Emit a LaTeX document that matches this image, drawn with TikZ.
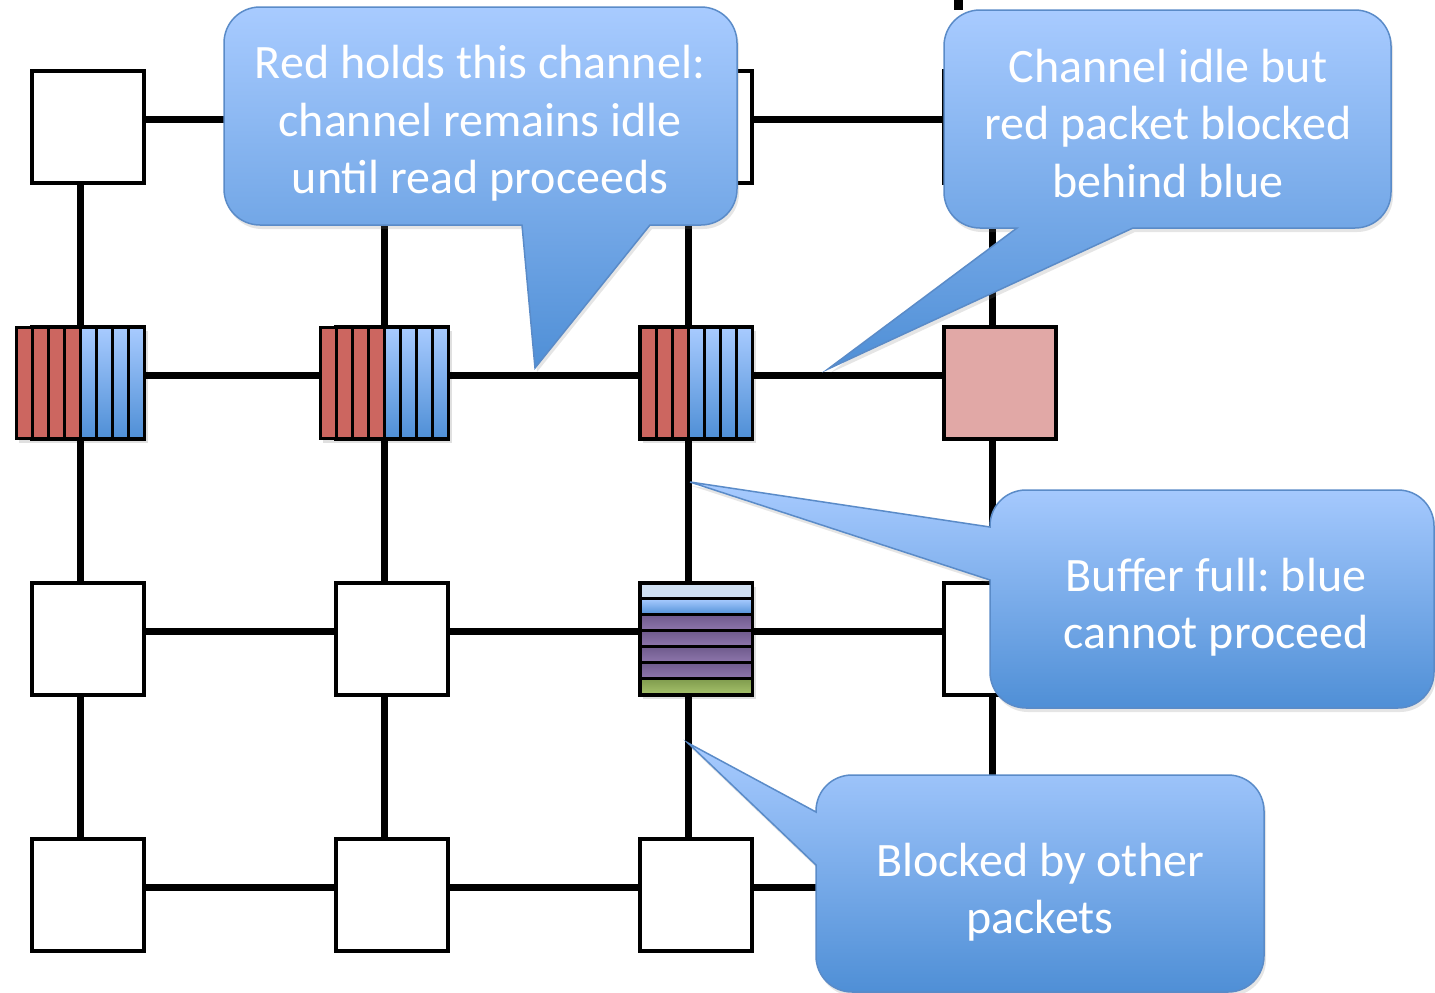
\documentclass[tikz,border=0pt]{standalone}
\usepackage{fontspec}
\setmainfont{Carlito}
\usetikzlibrary{shadows}
\frenchspacing
\definecolor{cTop}{HTML}{A8CBFF}
\definecolor{cBot}{HTML}{4F8FD6}
\definecolor{cEdge}{HTML}{5A8BC8}
\definecolor{pkRed}{HTML}{CC6660}
\definecolor{pkPink}{HTML}{E1A8A6}
\definecolor{pkLight}{HTML}{CFDFF2}
\definecolor{pkPurp}{HTML}{8E76AC}
\definecolor{pkPurpD}{HTML}{6E5A8C}
\definecolor{pkGreen}{HTML}{A5C16B}
\definecolor{pkGreenD}{HTML}{7E9A4C}
\begin{document}
\begin{tikzpicture}[x=1pt,y=-1pt,
  router/.style={draw=black, line width=4pt, fill=white, minimum size=112pt, inner sep=0pt, outer sep=0pt},
  link/.style={line width=7pt, black},
  callout/.style={top color=cTop, bottom color=cBot, draw=cEdge, line width=1.5pt,
    drop shadow={shadow xshift=2pt, shadow yshift=-4pt, opacity=0.2}},
  ctext/.style={text=white, align=center, font=\fontsize{48}{57.5}\selectfont\frenchspacing, inner sep=0pt},
  stripe/.style={draw=black, line width=3pt},
  redstripe/.style={stripe, fill=pkRed},
  bluestripe/.style={stripe, top color=cTop, bottom color=cBot},
  lightstripe/.style={stripe, fill=pkLight},
  purpstripe/.style={stripe, top color=pkPurpD, bottom color=pkPurp},
  greenstripe/.style={stripe, top color=pkGreenD, bottom color=pkGreen},
  bufshadow/.style={fill=black, opacity=0.12}]
\useasboundingbox (0,0) rectangle (1435,993);
\fill[white] (0,0) rectangle (1435,993);

% routers
\foreach \r/\y in {1/127,2/383,3/639,4/895}{
  \foreach \c/\x in {1/88,2/392,3/696,4/1000}{
    \node[router] (r\r\c) at (\x,\y) {};
  }
}
\node[router, fill=pkPink] (r24x) at (1000,383) {};

% links
\foreach \r in {1,2,3,4}{
  \draw[link] ([yshift=8pt]r\r1.east) -- ([yshift=8pt]r\r2.west);
  \draw[link] ([yshift=8pt]r\r2.east) -- ([yshift=8pt]r\r3.west);
  \draw[link] ([yshift=8pt]r\r3.east) -- ([yshift=8pt]r\r4.west);
}
\foreach \c in {1,2,3,4}{
  \draw[link] ([xshift=-8pt]r1\c.south) -- ([xshift=-8pt]r2\c.north);
  \draw[link] ([xshift=-8pt]r2\c.south) -- ([xshift=-8pt]r3\c.north);
  \draw[link] ([xshift=-8pt]r3\c.south) -- ([xshift=-8pt]r4\c.north);
}
\coordinate (stubA) at (958,0);
\coordinate (stubB) at (958,10);
\draw[line width=9pt] (stubA) -- (stubB);

% buffers row 2
\fill[bufshadow] (19,331) rectangle (148,443);
\fill[bufshadow] (323,331) rectangle (452,443);
\fill[bufshadow] (643,331) rectangle (756,443);
\foreach \i in {0,...,3}{ \draw[redstripe] (16+16*\i,327) rectangle ++(16,111); }
\foreach \i in {4,...,7}{ \draw[bluestripe] (16+16*\i,327) rectangle ++(16,111); }
\foreach \i in {0,...,3}{ \draw[redstripe] (320+16*\i,327) rectangle ++(16,111); }
\foreach \i in {4,...,7}{ \draw[bluestripe] (320+16*\i,327) rectangle ++(16,111); }
\foreach \i in {0,...,2}{ \draw[redstripe] (640+16*\i,327) rectangle ++(16,111); }
\foreach \i in {3,...,6}{ \draw[bluestripe] (640+16*\i,327) rectangle ++(16,111); }

% buffer row 3 col 3
\fill[bufshadow] (643,587) rectangle (756,699);
\draw[black, line width=4pt] (r33.north west) rectangle (r33.south east);
\foreach \k/\sty in {0/lightstripe,1/bluestripe,2/purpstripe,3/purpstripe,4/purpstripe,5/purpstripe,6/greenstripe}{
  \draw[\sty] (640,583+\k*15.857) rectangle ++(112,15.857);
}

% callout 1
\draw[callout] (260,7) -- (701,7) .. controls (721,7) and (737,23) .. (737,43)
  -- (737,189) .. controls (737,209) and (721,225) .. (701,225)
  -- (650,225) -- (535,368) -- (522,225)
  -- (260,225) .. controls (240,225) and (224,209) .. (224,189)
  -- (224,43) .. controls (224,23) and (240,7) .. (260,7) -- cycle;
\node[ctext] (t1) at (480,123.5) {Red holds this channel:\\channel remains idle\\until read proceeds};

% callout 2
\draw[callout] (980,10) -- (1355,10) .. controls (1375,10) and (1391,26) .. (1391,46)
  -- (1391,192) .. controls (1391,212) and (1375,228) .. (1355,228)
  -- (1133,228) -- (828,369) -- (1017,228)
  -- (980,228) .. controls (960,228) and (944,212) .. (944,192)
  -- (944,46) .. controls (944,26) and (960,10) .. (980,10) -- cycle;
\node[ctext] (t2) at (1168,123.5) {Channel idle but\\red packet blocked\\behind blue};

% callout 3
\draw[callout] (1026,490) -- (1398,490) .. controls (1418,490) and (1434,506) .. (1434,526)
  -- (1434,672) .. controls (1434,692) and (1418,708) .. (1398,708)
  -- (1026,708) .. controls (1006,708) and (990,692) .. (990,672)
  -- (990,580) -- (690,482) -- (990,527)
  -- (990,526) .. controls (990,506) and (1006,490) .. (1026,490) -- cycle;
\node[ctext] (t3) at (1216,607) {Buffer full: blue\\cannot proceed};

% callout 4
\draw[callout] (852,775) -- (1228,775) .. controls (1248,775) and (1264,791) .. (1264,811)
  -- (1264,956) .. controls (1264,976) and (1248,992) .. (1228,992)
  -- (852,992) .. controls (832,992) and (816,976) .. (816,956)
  -- (816,865) -- (688,743) -- (816,812)
  -- (816,811) .. controls (816,791) and (832,775) .. (852,775) -- cycle;
\node[ctext] (t4) at (1040,892) {Blocked by other\\packets};
\end{tikzpicture}
\end{document}
